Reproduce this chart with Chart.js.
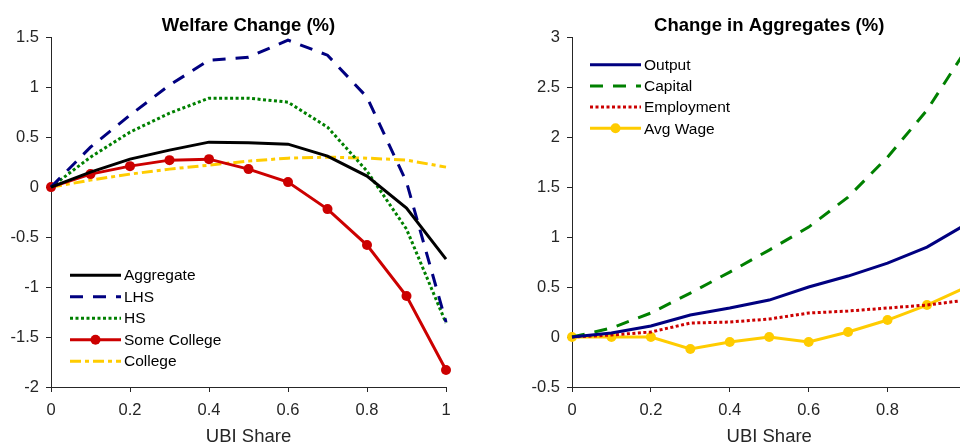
<!DOCTYPE html>
<html>
<head>
<meta charset="utf-8">
<script src="https://cdn.jsdelivr.net/npm/chart.js@4.4.1/dist/chart.umd.min.js"></script>
<style>
  html, body { margin: 0; padding: 0; background: #fff; overflow: hidden; }
  body { width: 960px; height: 445px; position: relative; }
  .panel { position: absolute; top: 0; height: 445px; }
  #leftPanel { left: 0; width: 480px; }
  #rightPanel { left: 480px; width: 500px; }
</style>
</head>
<body>
<div class="panel" id="leftPanel"><canvas id="welfare"></canvas></div>
<div class="panel" id="rightPanel"><canvas id="aggregates"></canvas></div>
<script>
// UBI share grid
const ubiShare = [0, 0.1, 0.2, 0.3, 0.4, 0.5, 0.6, 0.7, 0.8, 0.9, 1.0];
const xTicks = [0, 0.2, 0.4, 0.6, 0.8, 1];

// Panel 1: welfare change (%)
const aggregate   = [0, 0.15, 0.28, 0.37, 0.45, 0.445, 0.43, 0.31, 0.11, -0.21, -0.72];
const lhs         = [0, 0.40, 0.72, 1.02, 1.27, 1.30, 1.47, 1.32, 0.90, 0.05, -1.35];
const hs          = [0, 0.30, 0.55, 0.74, 0.89, 0.89, 0.85, 0.60, 0.16, -0.42, -1.36];
const someCollege = [0, 0.13, 0.21, 0.27, 0.28, 0.18, 0.05, -0.22, -0.58, -1.09, -1.83];
const college     = [0, 0.07, 0.13, 0.18, 0.22, 0.26, 0.29, 0.30, 0.29, 0.27, 0.20];
const welfareTicks = [-2, -1.5, -1, -0.5, 0, 0.5, 1, 1.5];

// Panel 2: change in aggregates (%)
const output     = [0, 0.04, 0.11, 0.22, 0.29, 0.37, 0.50, 0.61, 0.74, 0.90, 1.13];
const capital    = [0, 0.09, 0.24, 0.44, 0.65, 0.87, 1.10, 1.40, 1.80, 2.27, 2.88];
const employment = [0, 0.02, 0.05, 0.14, 0.15, 0.18, 0.24, 0.26, 0.29, 0.32, 0.37];
const avgWage    = [0, 0, 0, -0.12, -0.05, 0, -0.05, 0.05, 0.17, 0.32, 0.50];
const aggTicks = [-0.5, 0, 0.5, 1, 1.5, 2, 2.5, 3];

const FONT = "'Liberation Sans', Arial, Helvetica, sans-serif";
const AXIS = '#262626';

function pts(ys) {
    return ubiShare.map((x, i) => ({ x: x, y: ys[i] }));
}

function series(label, ys, color, dash, marker) {
    return {
        label: label,
        data: pts(ys),
        borderColor: color,
        backgroundColor: color,
        borderWidth: 3,
        borderDash: dash,
        pointRadius: marker ? 5 : 0,
        pointHoverRadius: marker ? 5 : 0,
        pointBorderWidth: 0,
        tension: 0,
        clip: false
    };
}

// legend drawn inside the plot area, like the original figure
const insideLegend = {
    id: 'insideLegend',
    afterDatasetsDraw(chart, args, opts) {
        const { ctx, chartArea } = chart;
        ctx.save();
        chart.data.datasets.forEach((ds, i) => {
            const y = chartArea.top + opts.top + i * opts.gap;
            const x0 = chartArea.left + opts.left;
            const x1 = x0 + 51;
            ctx.beginPath();
            ctx.setLineDash(ds.borderDash || []);
            ctx.strokeStyle = ds.borderColor;
            ctx.lineWidth = ds.borderWidth;
            ctx.moveTo(x0, y);
            ctx.lineTo(x1, y);
            ctx.stroke();
            if (ds.pointRadius > 0) {
                ctx.setLineDash([]);
                ctx.fillStyle = ds.borderColor;
                ctx.beginPath();
                ctx.arc((x0 + x1) / 2, y, ds.pointRadius, 0, Math.PI * 2);
                ctx.fill();
            }
            ctx.fillStyle = '#000';
            ctx.font = '15.5px ' + FONT;
            ctx.textBaseline = 'middle';
            ctx.textAlign = 'left';
            ctx.fillText(ds.label, x1 + 3, y + 1);
        });
        ctx.restore();
    }
};

function makeOptions(title, yMin, yMax, yTicks, yWidth, padRight, legendPos) {
    return {
        responsive: true,
        maintainAspectRatio: false,
        animation: false,
        events: [],
        layout: { padding: { left: 0, right: padRight, top: 0, bottom: 0 } },
        plugins: {
            legend: { display: false },
            tooltip: { enabled: false },
            title: {
                display: true,
                text: title,
                fullSize: false,
                color: '#000',
                font: { family: FONT, size: 18.5, weight: 'bold' },
                padding: { top: 15, bottom: 0 }
            },
            insideLegend: legendPos
        },
        scales: {
            x: {
                type: 'linear',
                min: 0,
                max: 1,
                afterBuildTicks: s => { s.ticks = xTicks.map(v => ({ value: v })); },
                afterFit: s => { s.height = 58; },
                ticks: {
                    color: AXIS,
                    font: { family: FONT, size: 16.5 },
                    padding: 9,
                    maxRotation: 0,
                    callback: v => String(v)
                },
                grid: { drawOnChartArea: false, drawTicks: true, tickLength: 5, color: AXIS },
                border: { display: true, color: AXIS, width: 1 },
                title: {
                    display: true,
                    text: 'UBI Share',
                    color: AXIS,
                    font: { family: FONT, size: 18.5, lineHeight: 0.8 },
                    padding: { top: 0, bottom: 1 }
                }
            },
            y: {
                type: 'linear',
                min: yMin,
                max: yMax,
                afterBuildTicks: s => { s.ticks = yTicks.map(v => ({ value: v })); },
                afterFit: s => { s.width = yWidth; },
                ticks: {
                    color: AXIS,
                    font: { family: FONT, size: 16.5 },
                    padding: 7,
                    callback: v => String(v)
                },
                grid: { drawOnChartArea: false, drawTicks: true, tickLength: 5, color: AXIS },
                border: { display: true, color: AXIS, width: 1 }
            }
        }
    };
}

new Chart(document.getElementById('welfare'), {
    type: 'line',
    data: {
        datasets: [
            series('Aggregate', aggregate, '#000000', [], false),
            series('LHS', lhs, '#000080', [13, 10], false),
            series('HS', hs, '#008000', [3, 2.5], false),
            series('Some College', someCollege, '#cc0000', [], true),
            series('College', college, '#ffcc00', [11, 4, 4, 4], false)
        ]
    },
    options: makeOptions('Welfare Change (%)', -2, 1.5, welfareTicks, 51, 34, { left: 19, top: 238, gap: 21.5 }),
    plugins: [insideLegend]
});

new Chart(document.getElementById('aggregates'), {
    type: 'line',
    data: {
        datasets: [
            series('Output', output, '#000080', [], false),
            series('Capital', capital, '#008000', [13, 10], false),
            series('Employment', employment, '#cc0000', [3, 2.5], false),
            series('Avg Wage', avgWage, '#ffcc00', [], true)
        ]
    },
    options: makeOptions('Change in Aggregates (%)', -0.5, 3, aggTicks, 92, 13, { left: 18, top: 27.5, gap: 21.2 }),
    plugins: [insideLegend]
});
</script>
</body>
</html>
